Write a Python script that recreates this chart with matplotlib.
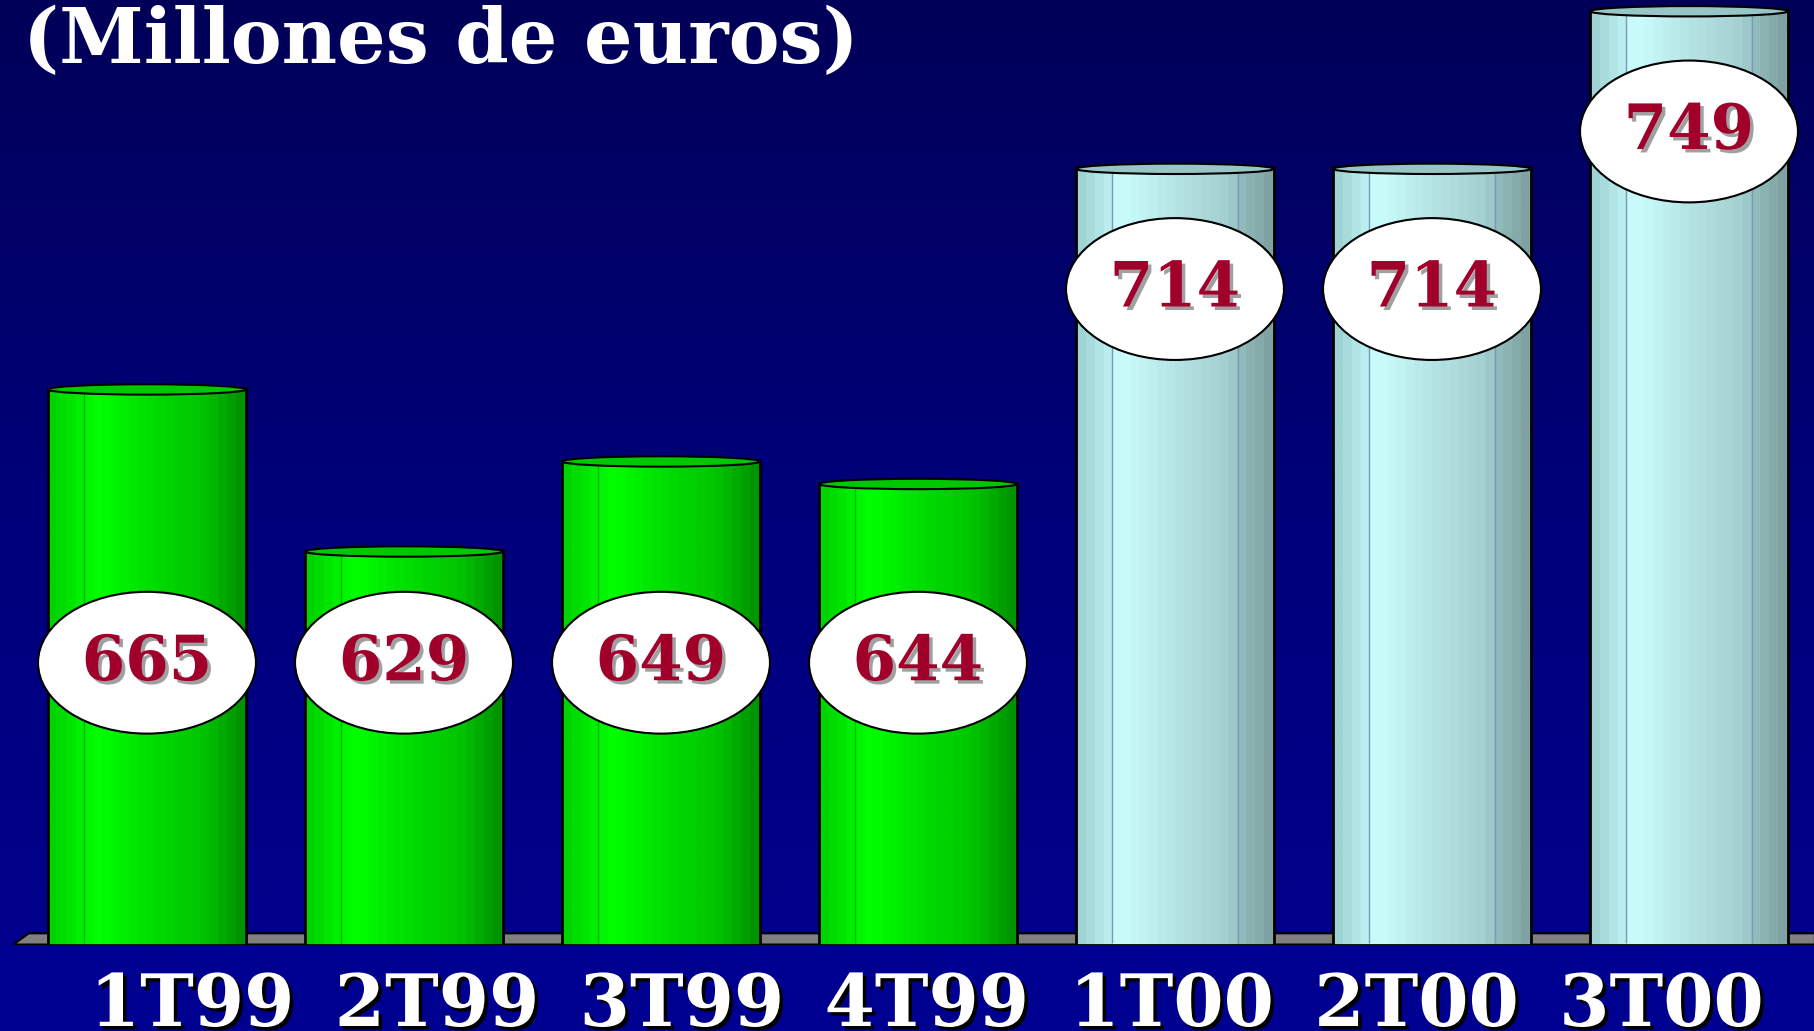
import numpy as np
import matplotlib
matplotlib.use('Agg')
import matplotlib.pyplot as plt
from matplotlib.colors import LinearSegmentedColormap
from matplotlib.patches import Ellipse, Polygon
from matplotlib.transforms import blended_transform_factory
import matplotlib.patheffects as pe

# Data
quarters = ['1T99', '2T99', '3T99', '4T99', '1T00', '2T00', '3T00']
values = [665, 629, 649, 644, 714, 714, 749]
year_2000 = [False, False, False, False, True, True, True]

title = '(Millones de euros)'

# Axis range so the bars sit on the floor like in the original
base = 541.3
top = 751.2

fig = plt.figure(figsize=(18.15, 10.31), dpi=100)

# Background gradient (dark navy at top, blue at bottom)
bg = fig.add_axes([0, 0, 1, 1])
grad = np.linspace(0, 1, 256).reshape(-1, 1)
bg_cmap = LinearSegmentedColormap.from_list('bg', ['#000090', '#00007A', '#000058'])
bg.imshow(grad, extent=[0, 1, 0, 1], aspect='auto', cmap=bg_cmap, origin='lower')
bg.axhspan(0, 0.085, color='#000090')
bg.set_xlim(0, 1)
bg.set_ylim(0, 1)
bg.axis('off')

ax = fig.add_axes([0, 1 - 945 / 1031, 1, 945 / 1031])
ax.set_facecolor('none')
x = np.arange(len(values))
vals = np.array(values)
bar_w = 0.77

green_cmap = LinearSegmentedColormap.from_list(
    'green', [(0, '#00D400'), (0.15, '#00F000'), (0.25, '#00FF00'),
              (0.5, '#00E000'), (0.8, '#00C400'), (1.0, '#009400')], N=22)
cyan_cmap = LinearSegmentedColormap.from_list(
    'cyan', [(0, '#A0D4D4'), (0.17, '#C0F2F2'), (0.2, '#CCFFFF'),
             (0.5, '#B6E4E4'), (0.8, '#A2CECE'), (0.82, '#96C2C2'), (1.0, '#80A2A2')], N=22)

# Floor slab
ax.add_patch(Polygon([(-0.52, base + 0.1), (-0.46, base + 2.6), (6.49, base + 2.6), (6.49, base + 0.1)],
                     closed=True, facecolor='#808080', edgecolor='black', lw=1.5, zorder=1))

bars = ax.bar(x, vals - base, bottom=base, width=bar_w, facecolor='none',
              edgecolor='black', linewidth=2, zorder=3)

stripe = np.linspace(0, 1, 200).reshape(1, -1)
for rect, xi, v, is00 in zip(bars, x, vals, year_2000):
    cmap = cyan_cmap if is00 else green_cmap
    x0 = xi - bar_w / 2
    im = ax.imshow(stripe, extent=[x0, x0 + bar_w, base, v], aspect='auto',
                   cmap=cmap, zorder=2)
    im.set_clip_path(rect)
    # thin vertical lines of the cylinder
    line_c = '#7C98B8' if is00 else '#00B400'
    ax.vlines([x0 + 0.18 * bar_w, x0 + 0.82 * bar_w], base + 0.5, v - 1,
              colors=line_c, lw=1, zorder=2.5)
    # top cap
    cap_c = '#98C6C6' if is00 else '#00C800'
    ax.add_patch(Ellipse((xi, v - 0.3), bar_w, 2.3, facecolor=cap_c,
                         edgecolor='black', lw=1.5, zorder=4))

# Value labels in white ellipses
label_y = np.where(vals < 700, 604.0, vals - 27)
for xi, v, ly in zip(x, vals, label_y):
    ax.add_patch(Ellipse((xi, ly), 0.848, 31.5, facecolor='white',
                         edgecolor='black', lw=1.5, zorder=5))
    ax.text(xi, ly, str(v), ha='center', va='center', fontsize=45,
            fontweight='bold', family='DejaVu Serif', color='#A0002A', zorder=6,
            path_effects=[pe.SimplePatchShadow(offset=(2.5, -2.5), shadow_rgbFace='#A0A0A0', alpha=1),
                          pe.Normal()])

ax.set_xlim(-147 / 257, 1668 / 257)
ax.set_ylim(base, top)
ax.axis('off')

# Quarter labels under the floor (slightly tighter spacing than the bars)
trans = blended_transform_factory(ax.transData, fig.transFigure)
for xi, q in zip(x, quarters):
    ax.text(0.175 + 0.953 * xi, 5 / 1031, q, transform=trans, ha='center',
            va='baseline', fontsize=52, fontweight='bold', family='DejaVu Serif',
            color='white', clip_on=False,
            path_effects=[pe.SimplePatchShadow(offset=(2.5, -2.5), shadow_rgbFace='black', alpha=1),
                          pe.Normal()])

fig.text(23 / 1815, 1 - 63 / 1031, title, ha='left', va='baseline', fontsize=55,
         fontweight='bold', family='DejaVu Serif', color='white')

fig.savefig('out.png', dpi=100)
